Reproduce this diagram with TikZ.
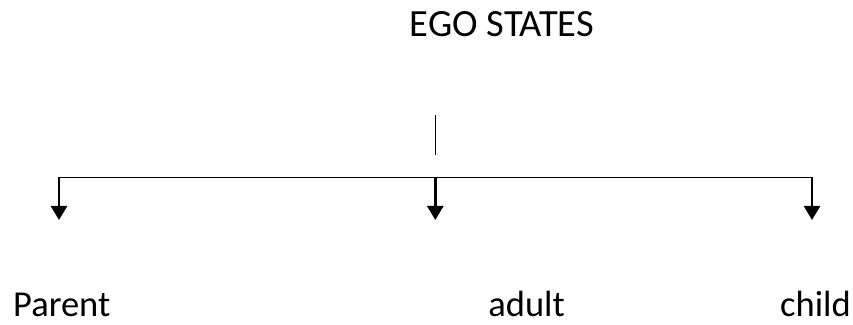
\documentclass[tikz,border=0pt]{standalone}
\usepackage{fontspec}
\setmainfont{Carlito}
\usetikzlibrary{arrows.meta}
\begin{document}
\begin{tikzpicture}[x=1pt,y=1pt,
  lbl/.style={inner sep=0pt,font=\fontsize{36.5}{43}\selectfont},
  branch/.style={line width=2.6pt,-{Triangle[width=16pt,length=14pt]}}]
\useasboundingbox (0,0) rectangle (853,324);
\node[lbl,anchor=base,font=\fontsize{38.5}{46}\selectfont] (title) at (502,287) {EGO STATES};
\coordinate (stemtop) at (435.3,209);
\coordinate (stembot) at (435.3,169);
\draw[line width=1.4pt] (stemtop) -- (stembot);
\coordinate (barL) at (59,146.5);
\coordinate (barM) at (435.3,146.5);
\coordinate (barR) at (812,146.5);
\draw[line width=1.6pt] (barL) -- (barR);
\coordinate (tipL) at (59,104);
\coordinate (tipM) at (435.3,104);
\coordinate (tipR) at (812,104);
\draw[branch] (barL) -- (tipL);
\draw[branch] (barM) -- (tipM);
\draw[branch] (barR) -- (tipR);
\node[lbl,anchor=base west] (parent) at (13,8) {Parent};
\node[lbl,anchor=base east] (adult) at (565,8) {adult};
\node[lbl,anchor=base west] (child) at (780,8) {child};
\end{tikzpicture}
\end{document}
